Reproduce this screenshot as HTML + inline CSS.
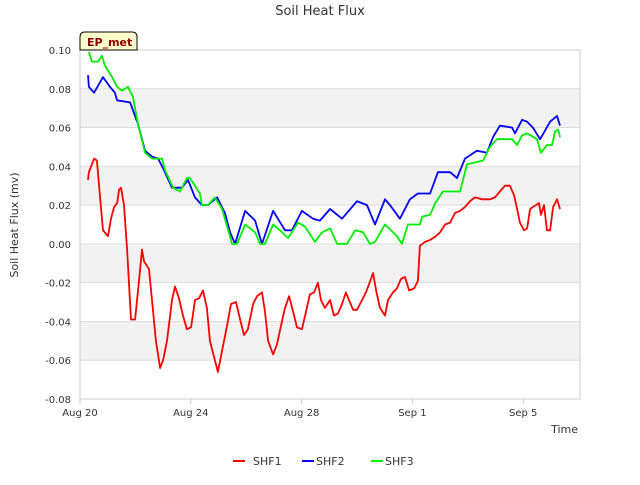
<!DOCTYPE html>
<html><head><meta charset="utf-8"><style>
body{margin:0;background:#fff;font-family:"Liberation Sans","DejaVu Sans",sans-serif}
</style></head><body>
<svg id="chart" width="640" height="480" xmlns="http://www.w3.org/2000/svg" font-family="DejaVu Sans, Liberation Sans, sans-serif">
<rect width="640" height="480" fill="#fff"/>
<g id="bands"></g><g id="grid"></g><g id="series"></g><g id="axes"></g>
<text x="320" y="15" text-anchor="middle" font-size="13" fill="#333">Soil Heat Flux</text>
<text transform="translate(18,225) rotate(-90)" text-anchor="middle" font-size="11" fill="#333">Soil Heat Flux (mv)</text>
<text x="578" y="433" text-anchor="end" font-size="11" fill="#333">Time</text>
<g>
<path d="M80,50 L80,37 Q80,32 85,32 L132,32 Q137,32 137,37 L137,50 Z" fill="#ffffcc" stroke="#000" stroke-width="1"/>
<text x="87" y="46" font-size="11" font-weight="bold" fill="#8b0000">EP_met</text>
</g>
<g font-size="11" fill="#333">
<g><line x1="233" y1="461" x2="245" y2="461" stroke="#ff0000" stroke-width="2"/><text x="253" y="465">SHF1</text></g>
<g><line x1="302" y1="461" x2="314" y2="461" stroke="#0000ff" stroke-width="2"/><text x="316" y="465">SHF2</text></g>
<g><line x1="371" y1="461" x2="383" y2="461" stroke="#00ee00" stroke-width="2"/><text x="385" y="465">SHF3</text></g>
</g>
</svg>
<script>
const yTicks=[0.10,0.08,0.06,0.04,0.02,0.00,-0.02,-0.04,-0.06,-0.08];
const yTickLabels=["0.10","0.08","0.06","0.04","0.02","0.00","-0.02","-0.04","-0.06","-0.08"];
const xTicks=[0,4,8,12,16];
const xTickLabels=["Aug 20","Aug 24","Aug 28","Sep 1","Sep 5"];
const shf1Days=[0.29,0.32,0.51,0.61,0.72,0.83,1.01,1.12,1.23,1.34,1.41,1.48,1.59,1.70,1.84,1.99,2.13,2.24,2.31,2.49,2.60,2.74,2.89,3.00,3.14,3.32,3.43,3.57,3.72,3.86,4.01,4.15,4.30,4.44,4.58,4.69,4.87,4.98,5.13,5.31,5.45,5.63,5.78,5.92,6.06,6.25,6.39,6.57,6.68,6.79,6.97,7.11,7.26,7.40,7.55,7.73,7.83,8.01,8.16,8.30,8.45,8.59,8.70,8.84,9.03,9.17,9.31,9.46,9.60,9.71,9.86,10.00,10.18,10.32,10.43,10.58,10.69,10.83,11.01,11.12,11.30,11.44,11.59,11.73,11.88,12.06,12.20,12.27,12.45,12.64,12.85,13.00,13.18,13.36,13.54,13.72,13.90,14.08,14.26,14.51,14.80,14.98,15.16,15.34,15.52,15.67,15.78,15.88,16.03,16.14,16.25,16.35,16.46,16.57,16.64,16.75,16.86,16.97,17.08,17.22,17.33];
const shf1Values=[0.033,0.037,0.044,0.043,0.025,0.007,0.004,0.013,0.019,0.021,0.028,0.029,0.020,-0.003,-0.039,-0.039,-0.019,-0.003,-0.009,-0.013,-0.029,-0.050,-0.064,-0.060,-0.050,-0.029,-0.022,-0.028,-0.037,-0.044,-0.043,-0.029,-0.028,-0.024,-0.033,-0.050,-0.060,-0.066,-0.055,-0.042,-0.031,-0.030,-0.039,-0.047,-0.044,-0.031,-0.027,-0.025,-0.035,-0.050,-0.057,-0.052,-0.042,-0.033,-0.027,-0.037,-0.043,-0.044,-0.035,-0.026,-0.025,-0.020,-0.029,-0.033,-0.029,-0.037,-0.036,-0.031,-0.025,-0.029,-0.034,-0.034,-0.029,-0.025,-0.021,-0.015,-0.024,-0.033,-0.037,-0.029,-0.025,-0.023,-0.018,-0.017,-0.024,-0.023,-0.019,-0.001,0.001,0.002,0.004,0.006,0.010,0.011,0.016,0.017,0.019,0.022,0.024,0.023,0.023,0.024,0.027,0.030,0.030,0.025,0.018,0.011,0.007,0.008,0.018,0.019,0.020,0.021,0.015,0.020,0.007,0.007,0.019,0.023,0.018];
const shf2Days=[0.29,0.32,0.51,0.83,1.08,1.26,1.34,1.81,2.09,2.35,2.60,2.82,3.00,3.32,3.68,3.90,4.15,4.40,4.62,4.95,5.23,5.42,5.60,5.96,6.32,6.57,6.97,7.40,7.65,8.01,8.41,8.66,9.03,9.46,10.00,10.36,10.65,11.01,11.19,11.55,11.91,12.20,12.64,12.92,13.36,13.61,13.90,14.33,14.69,14.91,15.16,15.60,15.70,15.96,16.14,16.35,16.61,16.97,17.22,17.33];
const shf2Values=[0.087,0.081,0.078,0.086,0.081,0.078,0.074,0.073,0.062,0.048,0.045,0.044,0.039,0.029,0.029,0.033,0.024,0.020,0.020,0.024,0.016,0.006,0.000,0.017,0.012,0.000,0.017,0.007,0.007,0.017,0.013,0.012,0.018,0.013,0.022,0.020,0.010,0.023,0.020,0.013,0.023,0.026,0.026,0.037,0.037,0.034,0.044,0.048,0.047,0.055,0.061,0.060,0.057,0.064,0.063,0.060,0.054,0.063,0.066,0.061];
const shf3Days=[0.32,0.43,0.65,0.79,0.90,1.16,1.34,1.52,1.73,1.91,2.09,2.35,2.60,2.96,3.07,3.36,3.61,3.86,3.97,4.33,4.40,4.62,4.87,5.13,5.49,5.67,5.96,6.32,6.50,6.68,6.97,7.22,7.51,7.87,8.12,8.48,8.74,9.03,9.28,9.64,9.93,10.22,10.47,10.65,11.01,11.44,11.62,11.84,12.27,12.35,12.64,12.82,13.10,13.72,13.79,13.97,14.55,14.80,15.05,15.60,15.78,15.96,16.14,16.50,16.64,16.86,17.04,17.15,17.26,17.33];
const shf3Values=[0.099,0.094,0.094,0.097,0.092,0.086,0.081,0.079,0.081,0.076,0.062,0.047,0.044,0.044,0.038,0.029,0.027,0.034,0.034,0.026,0.020,0.020,0.024,0.018,0.000,0.000,0.010,0.006,0.000,0.000,0.010,0.007,0.003,0.011,0.009,0.001,0.006,0.008,0.000,0.000,0.007,0.006,0.000,0.001,0.010,0.004,0.000,0.010,0.010,0.014,0.015,0.021,0.027,0.027,0.031,0.041,0.043,0.050,0.054,0.054,0.051,0.056,0.057,0.054,0.047,0.051,0.051,0.058,0.059,0.055];

const NS="http://www.w3.org/2000/svg";
const L=80,R=580,T=50,B=399,yMin=-0.08,yMax=0.10,dPerPx=27.7;
function xs(d){return L+d*dPerPx;}
function ys(v){return B-(v-yMin)/(yMax-yMin)*(B-T);}
function mk(tag,attrs,parent){const e=document.createElementNS(NS,tag);for(const k in attrs)e.setAttribute(k,attrs[k]);parent.appendChild(e);return e;}
const bands=document.getElementById('bands'),grid=document.getElementById('grid'),axes=document.getElementById('axes'),series=document.getElementById('series');
for(let i=0;i<yTicks.length-1;i++){
  if(i%2===1){
    const r=mk('rect',{x:L,y:ys(yTicks[i]),width:R-L,height:ys(yTicks[i+1])-ys(yTicks[i]),fill:'#f2f2f2'},bands);
    
    
  }
}
yTicks.forEach((v,i)=>{
  const g=mk('line',{x1:L,x2:R,y1:ys(v),y2:ys(v),stroke:'#dddddd','stroke-width':1},grid);
  
  
  const t=mk('text',{x:L-9,y:ys(v)+4,'text-anchor':'end','font-size':10,fill:'#333'},axes);
  t.textContent=yTickLabels[i];
  
  
});
const frame=mk('rect',{x:L,y:T,width:R-L,height:B-T,fill:'none',stroke:'#cccccc','stroke-width':1},axes);


xTicks.forEach((d,i)=>{
  const tk=mk('line',{x1:xs(d),x2:xs(d),y1:B,y2:B+5,stroke:'#cccccc'},axes);
  
  
  const t=mk('text',{x:xs(d),y:B+17,'text-anchor':'middle','font-size':10,fill:'#333'},axes);
  t.textContent=xTickLabels[i];
  
  
});
function drawLine(days,vals,color,name){
  const d=days.map((x,i)=>(i?'L':'M')+xs(x).toFixed(1)+','+ys(vals[i]).toFixed(1)).join(' ');
  const p=mk('path',{d:d,fill:'none',stroke:color,'stroke-width':1.8,'stroke-linejoin':'round'},series);
  
  
}
drawLine(shf2Days,shf2Values,'#0000ff','shf2-line');
drawLine(shf3Days,shf3Values,'#00ee00','shf3-line');
drawLine(shf1Days,shf1Values,'#ff0000','shf1-line');
</script>
</body></html>
